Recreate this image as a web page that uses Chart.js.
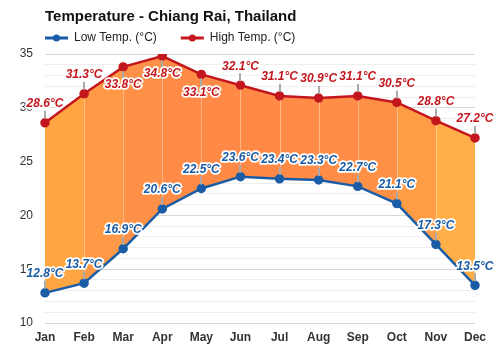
<!DOCTYPE html>
<html>
<head>
<meta charset="utf-8">
<script src="https://cdn.jsdelivr.net/npm/chart.js@4"></script>
<style>
  html, body { margin: 0; padding: 0; background: #fff; }
  #wrap { width: 500px; height: 350px; }
</style>
</head>
<body>
<div id="wrap"><canvas id="tempChart"></canvas></div>
<script>
"use strict"

// months and average temperatures
const months = ["Jan", "Feb", "Mar", "Apr", "May", "Jun", "Jul", "Aug", "Sep", "Oct", "Nov", "Dec"];
const lowTemps = [12.8, 13.7, 16.9, 20.6, 22.5, 23.6, 23.4, 23.3, 22.7, 21.1, 17.3, 13.5];
const highTemps = [28.6, 31.3, 33.8, 34.8, 33.1, 32.1, 31.1, 30.9, 31.1, 30.5, 28.8, 27.2];
const seriesNames = ["Low Temp. (°C)", "High Temp. (°C)"];
const chartTitle = "Temperature - Chiang Rai, Thailand";

const lowColor = "#1a5ca6";
const highColor = "#c4161d";
const fontFamily = "'Liberation Sans', Arial, sans-serif";

// one orange shade per month column, lighter at both ends
const columnColors = ["#ffa642", "#ff9946", "#ff9047", "#ff8b47", "#ff8a47", "#ff8a47",
    "#ff8b47", "#ff8d47", "#ff9146", "#ff9c45", "#ffae48"];

function bandFill(context) {
    const chart = context.chart;
    const area = chart.chartArea;
    if (!area) return columnColors[0];
    const grad = chart.ctx.createLinearGradient(area.left, 0, area.right, 0);
    const n = columnColors.length;
    for (let i = 0; i < n; i++) {
        grad.addColorStop(i / n, columnColors[i]);
        grad.addColorStop((i + 1) / n, columnColors[i]);
    }
    return grad;
}

// title + legend at the top left
const headerPlugin = {
    id: "header",
    afterDraw(chart) {
        const ctx = chart.ctx;
        const left = chart.chartArea.left;
        ctx.save();
        ctx.fillStyle = "#111";
        ctx.font = "bold 15px " + fontFamily;
        ctx.textBaseline = "middle";
        ctx.fillText(chartTitle, left, 17);

        ctx.font = "12px " + fontFamily;
        let x = left;
        const y = 38;
        const colors = [lowColor, highColor];
        for (let i = 0; i < seriesNames.length; i++) {
            ctx.strokeStyle = colors[i];
            ctx.fillStyle = colors[i];
            ctx.lineWidth = 3;
            ctx.beginPath();
            ctx.moveTo(x, y);
            ctx.lineTo(x + 23, y);
            ctx.stroke();
            ctx.beginPath();
            ctx.arc(x + 11.5, y, 3.5, 0, Math.PI * 2);
            ctx.fill();
            ctx.fillStyle = "#222";
            ctx.fillText(seriesNames[i], x + 29, y);
            x += 29 + ctx.measureText(seriesNames[i]).width + 24;
        }
        ctx.restore();
    }
};

// thin light lines across the band, then the value labels with stems
const labelPlugin = {
    id: "valueLabels",
    afterDatasetsDraw(chart) {
        const ctx = chart.ctx;
        const lowPts = chart.getDatasetMeta(0).data;
        const highPts = chart.getDatasetMeta(1).data;
        ctx.save();

        ctx.strokeStyle = "rgba(255,255,255,0.35)";
        ctx.lineWidth = 1;
        for (let i = 1; i < months.length - 1; i++) {
            const x = Math.round(highPts[i].x) + 0.5;
            ctx.beginPath();
            ctx.moveTo(x, highPts[i].y + 4);
            ctx.lineTo(x, lowPts[i].y - 4);
            ctx.stroke();
        }

        ctx.font = "italic bold 12px " + fontFamily;
        ctx.textAlign = "center";
        ctx.textBaseline = "middle";
        ctx.lineJoin = "round";
        const sets = [[lowPts, lowTemps, lowColor], [highPts, highTemps, highColor]];
        sets.forEach(([pts, values, color]) => {
            for (let i = 0; i < pts.length; i++) {
                const p = pts[i];
                // put the label under the point when there is no room above
                const below = p.y - 25 < chart.chartArea.top;
                const ly = below ? p.y + 18 : p.y - 19;
                ctx.strokeStyle = "#aaa";
                ctx.lineWidth = 2;
                ctx.beginPath();
                ctx.moveTo(Math.round(p.x), below ? p.y + 4 : p.y - 4);
                ctx.lineTo(Math.round(p.x), below ? p.y + 12 : p.y - 12);
                ctx.stroke();
                const text = values[i].toFixed(1) + "°C";
                ctx.strokeStyle = "#fff";
                ctx.lineWidth = 3.5;
                ctx.strokeText(text, p.x, ly);
                ctx.fillStyle = color;
                ctx.fillText(text, p.x, ly);
            }
        });
        ctx.restore();
    }
};

new Chart(document.getElementById("tempChart"), {
    type: "line",
    data: {
        labels: months,
        datasets: [{
            label: seriesNames[0],
            data: lowTemps,
            borderColor: lowColor,
            backgroundColor: lowColor,
            pointBackgroundColor: lowColor,
            borderWidth: 2.5,
            pointRadius: 3.5,
            fill: false,
            tension: 0
        }, {
            label: seriesNames[1],
            data: highTemps,
            borderColor: highColor,
            backgroundColor: bandFill,
            pointBackgroundColor: highColor,
            borderWidth: 2.5,
            pointRadius: 3.5,
            fill: "-1", // band between low and high
            tension: 0
        }]
    },
    options: {
        responsive: true,
        maintainAspectRatio: false,
        animation: false,
        layout: { padding: { top: 54, right: 25, left: 0, bottom: 0 } },
        plugins: {
            legend: { display: false },
            title: { display: false },
            tooltip: { enabled: false }
        },
        scales: {
            x: {
                offset: false,
                grid: { display: false },
                border: { display: false },
                ticks: {
                    color: "#333",
                    padding: -1,
                    font: { family: fontFamily, size: 12, weight: "bold" }
                },
                afterFit(scale) { scale.height = 27; }
            },
            y: {
                min: 10,
                max: 35,
                border: { display: false },
                grid: {
                    drawTicks: false,
                    color: (c) => (c.tick.value % 5 === 0 ? "#d8d8d8" : "#eeeeee")
                },
                ticks: {
                    stepSize: 1,
                    autoSkip: false,
                    padding: 12,
                    color: "#333",
                    font: { family: fontFamily, size: 12 },
                    callback: (v) => (v % 5 === 0 ? v : "")
                },
                afterFit(scale) { scale.width = 45; }
            }
        }
    },
    plugins: [headerPlugin, labelPlugin]
});
</script>
</body>
</html>
